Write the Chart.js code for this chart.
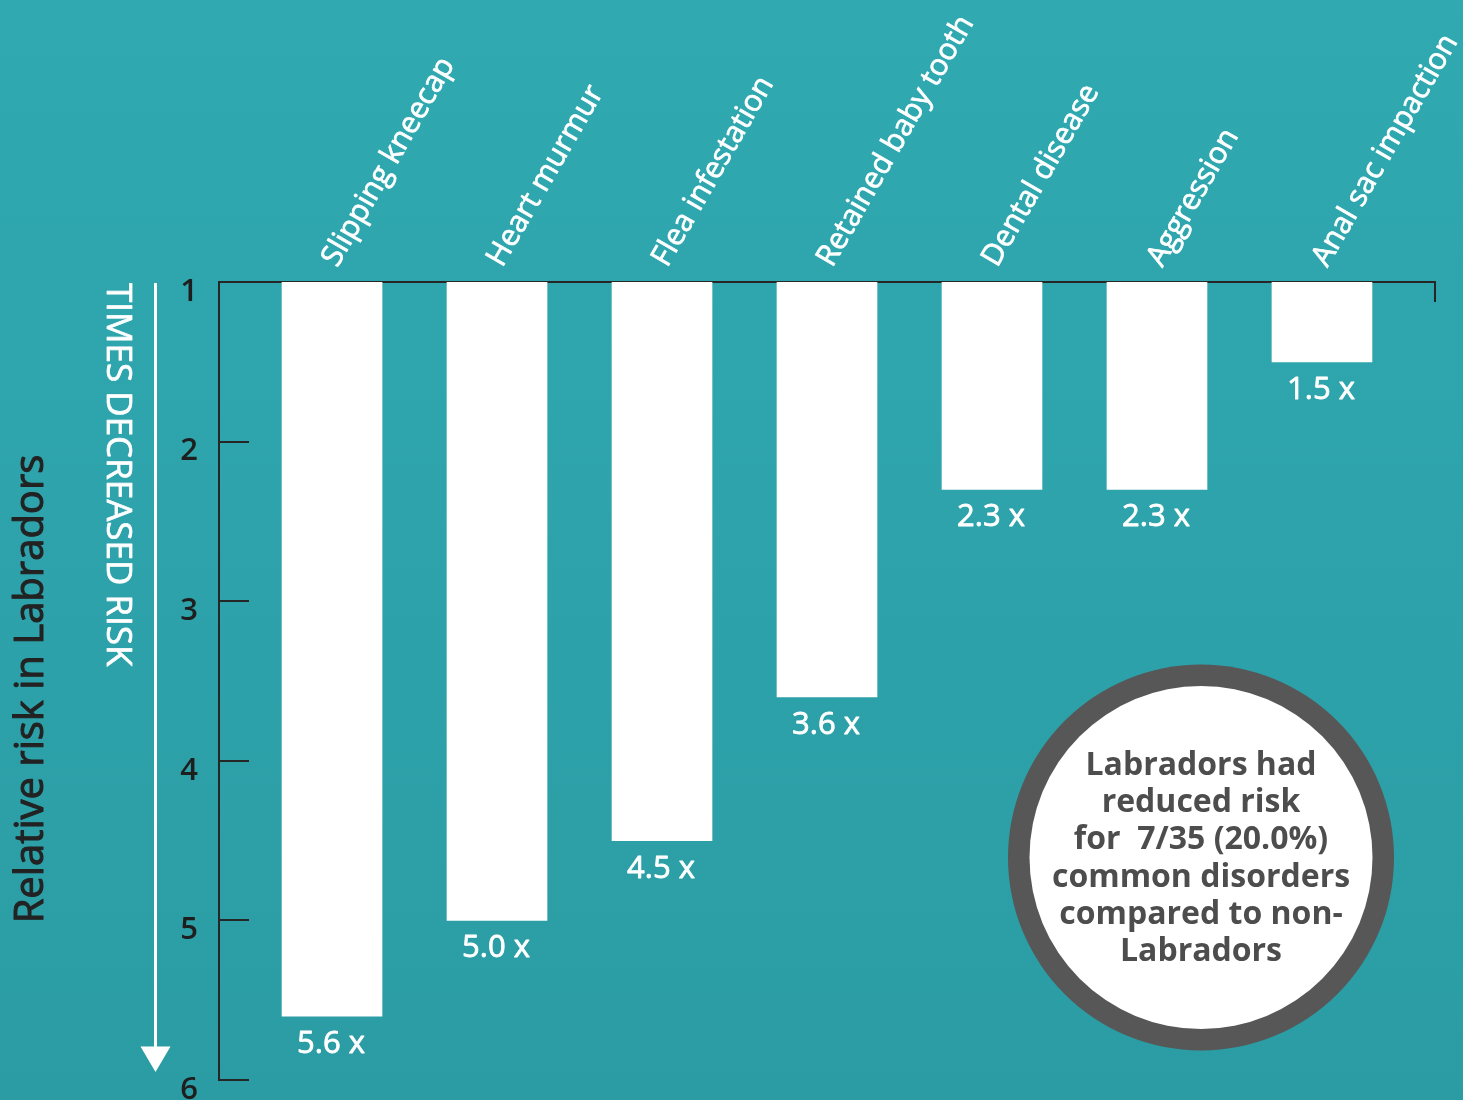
<!DOCTYPE html>
<html>
<head>
<meta charset="utf-8">
<script src="https://cdn.jsdelivr.net/npm/chart.js@4.4.1/dist/chart.umd.min.js"></script>
<style>
  html, body { margin: 0; padding: 0; background: #2ea6ae; }
  #wrap { width: 1463px; height: 1100px; }
</style>
</head>
<body>
<div id="wrap"><canvas id="c" width="1463" height="1100"></canvas></div>
<script>
const categories = ['Slipping kneecap', 'Heart murmur', 'Flea infestation', 'Retained baby tooth', 'Dental disease', 'Aggression', 'Anal sac impaction'];
const relativeRisk = [5.6, 5.0, 4.5, 3.6, 2.3, 2.3, 1.5];
const yTickValues = [1, 2, 3, 4, 5, 6];
const yAxisTitle = 'Relative risk in Labradors';
const arrowLabel = 'TIMES DECREASED RISK';
const calloutLines = ['Labradors had', 'reduced risk', 'for  7/35 (20.0%)', 'common disorders', 'compared to non-', 'Labradors'];

const FONT = '"Open Sans", "Noto Sans", sans-serif';

function strokedText(ctx, text, x, y, w) {
  ctx.lineWidth = w;
  ctx.lineJoin = 'round';
  ctx.strokeStyle = ctx.fillStyle;
  ctx.strokeText(text, x, y);
  ctx.fillText(text, x, y);
}

const backgroundPlugin = {
  id: 'bg',
  beforeDraw(chart) {
    const { ctx, width, height } = chart;
    const g = ctx.createLinearGradient(0, 0, 0, height);
    g.addColorStop(0, '#30a9b1');
    g.addColorStop(1, '#2b9ca4');
    ctx.save();
    ctx.fillStyle = g;
    ctx.fillRect(0, 0, width, height);
    ctx.restore();
  }
};

const valueLabelPlugin = {
  id: 'valueLabels',
  afterDatasetsDraw(chart) {
    const { ctx } = chart;
    const xs = chart.scales.x, ys = chart.scales.y;
    ctx.save();
    ctx.fillStyle = '#ffffff';
    ctx.font = '31px ' + FONT;
    ctx.textAlign = 'center';
    ctx.textBaseline = 'alphabetic';
    relativeRisk.forEach((v, i) => {
      strokedText(ctx, v.toFixed(1) + ' x', xs.getPixelForValue(i) - 1, ys.getPixelForValue(v) + 37, 0.8);
    });
    ctx.restore();
  }
};

const decorPlugin = {
  id: 'decor',
  afterDraw(chart) {
    const { ctx, chartArea } = chart;
    const ys = chart.scales.y;
    ctx.save();
    // right end tick of top axis
    ctx.strokeStyle = '#262626';
    ctx.lineWidth = 2;
    ctx.beginPath();
    ctx.moveTo(chartArea.right, chartArea.top);
    ctx.lineTo(chartArea.right, chartArea.top + 20);
    ctx.stroke();

    // axis title
    ctx.fillStyle = '#222222';
    ctx.font = '40px ' + FONT;
    ctx.textAlign = 'center';
    ctx.textBaseline = 'alphabetic';
    ctx.save();
    ctx.translate(43, 689);
    ctx.rotate(-Math.PI / 2);
    strokedText(ctx, yAxisTitle, 0, 0, 1);
    ctx.restore();

    // arrow label
    ctx.fillStyle = '#ffffff';
    ctx.font = '35px ' + FONT;
    ctx.textAlign = 'left';
    ctx.save();
    ctx.translate(107, ys.getPixelForValue(1) + 1);
    ctx.rotate(Math.PI / 2);
    strokedText(ctx, arrowLabel, 0, 0, 0.7);
    ctx.restore();

    // arrow
    ctx.strokeStyle = '#ffffff';
    ctx.lineWidth = 3;
    ctx.beginPath();
    ctx.moveTo(155.5, ys.getPixelForValue(1) + 1);
    ctx.lineTo(155.5, 1050);
    ctx.stroke();
    ctx.fillStyle = '#ffffff';
    ctx.beginPath();
    ctx.moveTo(140.5, 1046.5);
    ctx.lineTo(170.5, 1046.5);
    ctx.lineTo(155.5, 1072);
    ctx.closePath();
    ctx.fill();

    // callout circle
    const cx = 1201, cy = 857.5;
    ctx.fillStyle = '#575757';
    ctx.beginPath();
    ctx.arc(cx, cy, 193, 0, Math.PI * 2);
    ctx.fill();
    ctx.fillStyle = '#ffffff';
    ctx.beginPath();
    ctx.arc(cx, cy, 171.5, 0, Math.PI * 2);
    ctx.fill();
    ctx.fillStyle = '#4d4d4d';
    ctx.font = 'bold 32px ' + FONT;
    ctx.textAlign = 'center';
    ctx.textBaseline = 'alphabetic';
    calloutLines.forEach((line, i) => {
      ctx.fillText(line, cx, 775 + i * 37.2);
    });
    ctx.restore();
  }
};

new Chart(document.getElementById('c'), {
  type: 'bar',
  data: {
    datasets: [{
      data: relativeRisk.map((v, i) => ({ x: i, y: [1, v] })),
      backgroundColor: '#ffffff',
      borderWidth: 0,
      barThickness: 100
    }]
  },
  options: {
    responsive: false,
    animation: false,
    events: [],
    layout: { padding: { top: 0, left: 0, right: 28, bottom: 20 } },
    plugins: { legend: { display: false }, tooltip: { enabled: false }, title: { display: false } },
    scales: {
      x: {
        type: 'linear',
        position: 'top',
        min: -0.685,
        max: 6.685,
        offset: false,
        grid: { display: true, drawOnChartArea: false, drawTicks: false, offset: false },
        border: { display: true, color: '#262626', width: 2 },
        afterBuildTicks(s) { s.ticks = categories.map((_, i) => ({ value: i })); },
        afterFit(s) { s.height = 282; s.paddingLeft = 0; s.paddingRight = 0; },
        ticks: {
          autoSkip: false,
          minRotation: 60,
          maxRotation: 60,
          padding: 9,
          labelOffset: 29,
          color: '#ffffff',
          textStrokeColor: '#ffffff',
          textStrokeWidth: 0.7,
          font: { family: FONT, size: 30 },
          callback: (v) => categories[v]
        }
      },
      y: {
        type: 'linear',
        position: 'left',
        reverse: true,
        min: 1,
        max: 6,
        beginAtZero: false,
        afterBuildTicks(s) { s.ticks = yTickValues.map(v => ({ value: v })); },
        afterFit(s) { s.width = 219; s.paddingTop = 0; s.paddingBottom = 0; },
        grid: { display: true, drawOnChartArea: false, drawTicks: true, tickLength: -30, color: '#262626', lineWidth: 2 },
        border: { display: true, color: '#262626', width: 2 },
        ticks: {
          padding: 51,
          labelOffset: 10,
          color: '#1e1e1e',
          font: { family: FONT, size: 31, weight: 600 },
          callback: (v) => String(v)
        }
      }
    }
  },
  plugins: [backgroundPlugin, valueLabelPlugin, decorPlugin]
});
</script>
</body>
</html>
